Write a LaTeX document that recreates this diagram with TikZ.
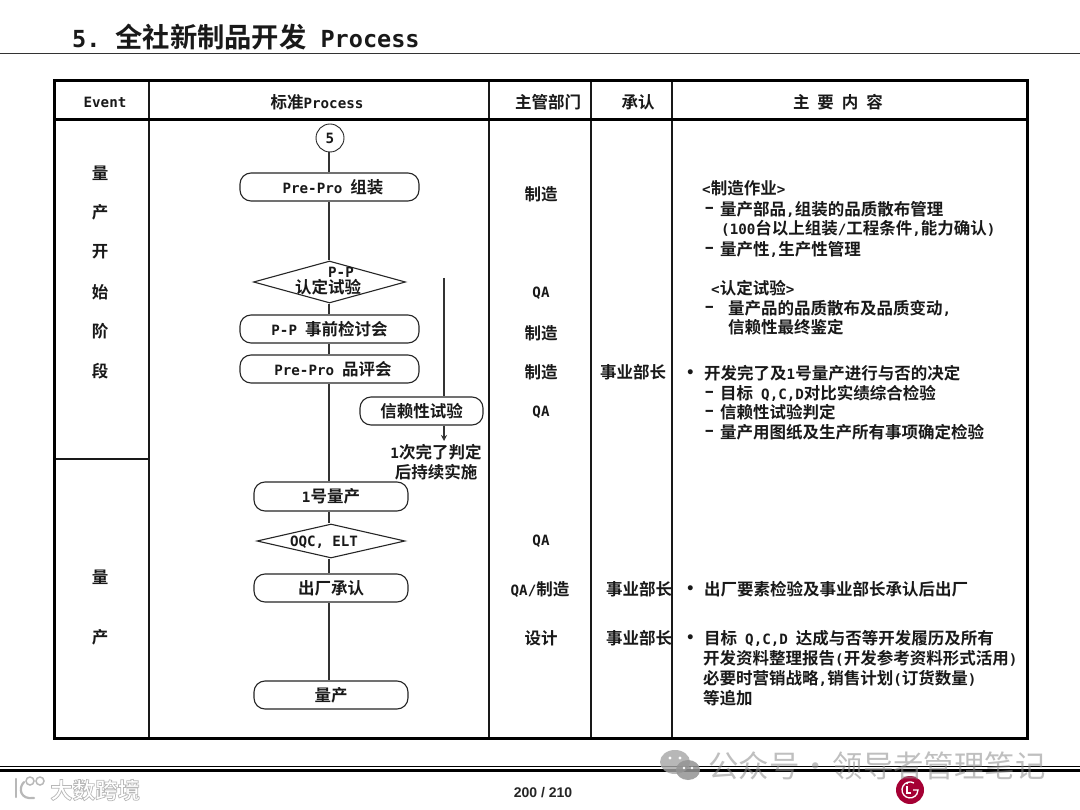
\documentclass[tikz,border=0pt]{standalone}
\usepackage{fontspec}
\usetikzlibrary{shapes.geometric,arrows.meta}
\setmainfont[BoldFont=* Bold]{Noto Sans CJK SC}
\newfontfamily\latf[BoldFont=* Bold]{DejaVu Sans Mono}
\newfontfamily\arialf[BoldFont=* Bold]{Liberation Sans}
\newcommand{\ltn}[1]{{\latf\fontsize{14.2}{16}\selectfont #1}}
\newcommand{\ltt}[1]{{\latf\fontsize{23.5}{26}\selectfont #1}}
\newcommand{\fs}[1]{\fontsize{#1}{#1}\selectfont}
\newcommand{\dsh}{\ltn{\scalebox{1.7}[1]{-}}}
\newcommand{\bul}{\ltn{•}}
\newcommand{\bx}[1]{\raisebox{-1.5pt}{#1}}
\newcommand{\widesp}{\spaceskip=8pt\relax}
\newcommand{\narrowsp}{\spaceskip=1.5pt\relax}
\definecolor{lgred}{HTML}{A50034}
\tikzset{
  x=1pt,y=-1pt,
  frame/.style={draw=black,line width=3pt},
  grid/.style={draw=black!90,line width=1.1pt},
  txtbase/.style={font=\fs{16.5}\bfseries\widesp,inner sep=0pt,text=black!90},
  txt/.style={txtbase,yshift=-1pt},
  ltxt/.style={txt,anchor=west},
  flow/.style={draw=black!80,line width=1.1pt},
  procbox/.style={draw=black!85,line width=1.1pt,rounded corners=11pt,fill=white,txtbase},
  decis/.style={draw=black!85,line width=1.1pt,diamond,fill=white,inner sep=0pt,aspect=3.6},
  wm/.style={font=\fs{30.4}\narrowsp,inner sep=0pt,text=black!45,opacity=.55},
}
\begin{document}
\begin{tikzpicture}
\useasboundingbox[fill=white] (0,0) rectangle (1080,810);
% title
\node[inner sep=0pt,text=black!90,anchor=west,font=\fs{27.3}\bfseries] (title) at (72,37) {\ltt{5.}\hspace{15pt}全社新制品开发\hspace{14pt}\ltt{Process}};
\coordinate (rl) at (0,54); \coordinate (rr) at (1080,54);
\draw[black!80,line width=1pt] (rl) -- (rr);
% table frame
\coordinate (tl) at (54,81); \coordinate (br) at (1027,738);
\coordinate (c1t) at (149,81); \coordinate (c1b) at (149,738);
\coordinate (c2t) at (489,81); \coordinate (c2b) at (489,738);
\coordinate (c3t) at (591,81); \coordinate (c3b) at (591,738);
\coordinate (c4t) at (672,81); \coordinate (c4b) at (672,738);
\coordinate (hl) at (56,120); \coordinate (hr) at (1027,120);
\coordinate (ml) at (54,459); \coordinate (mr) at (149,459);
\draw[grid] (c1t) -- (c1b); \draw[grid] (c2t) -- (c2b); \draw[grid] (c3t) -- (c3b); \draw[grid] (c4t) -- (c4b);
\draw[grid] (ml) -- (mr);
\draw[frame] (hl) -- (hr);
\draw[frame] (tl) rectangle (br);
% header
\node[txt] (h1) at (105,101) {\ltn{Event}};
\node[txt] (h2) at (317,101) {标准\ltn{Process}};
\node[txt] (h3) at (548,101) {主管部门};
\node[txt] (h4) at (638,101) {承认};
\node[txt] (h5) at (838,101) {主 要 内 容};
% event column
\node[txt] (e1) at (100,172) {量};
\node[txt] (e2) at (100,211) {产};
\node[txt] (e3) at (100,251) {开};
\node[txt] (e4) at (100,291) {始};
\node[txt] (e5) at (100,330) {阶};
\node[txt] (e6) at (100,370) {段};
\node[txt] (e7) at (100,576) {量};
\node[txt] (e8) at (100,636) {产};
% flow
\coordinate (spine) at (329,0);
\node[draw=black!85,line width=.9pt,circle,minimum size=28pt,inner sep=0pt,txtbase] (five) at (330,138) {\ltn{5}};
\node[procbox,minimum width=179pt,minimum height=28pt,inner sep=0pt] (p1) at (329.5,187) {\hspace{7pt}\bx{\ltn{Pre-Pro} 组装}};
\node[decis,minimum width=152pt,minimum height=42pt] (d1) at (329.5,282) {};
\node[procbox,minimum width=179pt,minimum height=28pt,inner sep=0pt] (p2) at (329.5,329) {\bx{\ltn{P-P} 事前检讨会}};
\node[procbox,minimum width=179pt,minimum height=28pt,inner sep=0pt] (p3) at (329.5,369) {\hspace{7pt}\bx{\ltn{Pre-Pro} 品评会}};
\node[procbox,minimum width=154pt,minimum height=29pt,inner sep=0pt] (p4) at (331,496.5) {\bx{\ltn{1}号量产}\hspace{3pt}};
\node[decis,minimum width=148pt,minimum height=34pt] (d2) at (331,541) {};
\node[procbox,minimum width=154pt,minimum height=28pt,inner sep=0pt] (p5) at (331,588) {\bx{出厂承认}\hspace{3pt}};
\node[procbox,minimum width=154pt,minimum height=28pt,inner sep=0pt] (p6) at (331,695) {\bx{量产}};
\node[procbox,minimum width=123pt,minimum height=28pt,inner sep=0pt] (rel) at (421.5,411) {\bx{信赖性试验}\hspace{3pt}};
\node[txt] (d1a) at (341,271) {\ltn{P-P}};
\node[txt] (d1b) at (328,286) {认定试验};
\node[txt] (d2t) at (324,541) {\ltn{OQC, ELT}};
\draw[flow] (five.south -| spine) -- (p1.north -| spine);
\draw[flow] (p1.south -| spine) -- (d1.north -| spine);
\draw[flow] (d1.south -| spine) -- (p2.north -| spine);
\draw[flow] (p2.south -| spine) -- (p3.north -| spine);
\draw[flow] (p3.south -| spine) -- (p4.north -| spine);
\draw[flow] (p4.south -| spine) -- (d2.north -| spine);
\draw[flow] (d2.south -| spine) -- (p5.north -| spine);
\draw[flow] (p5.south -| spine) -- (p6.north -| spine);
\coordinate (reltop) at (444,278);
\coordinate (relstub) at (444,441);
\draw[flow] (reltop) -- (rel.north -| reltop);
\draw[flow,-{Stealth[length=6pt,width=6pt]}] (rel.south -| reltop) -- (relstub);
\node[txt] (n1) at (436,451) {\ltn{1}次完了判定};
\node[txt] (n2) at (436,471) {后持续实施};
% dept column
\node[txt] (a1) at (541,193) {制造};
\node[txt] (a2) at (541,292) {\ltn{QA}};
\node[txt] (a3) at (541,332) {制造};
\node[txt] (a4) at (541,371) {制造};
\node[txt] (a5) at (541,411) {\ltn{QA}};
\node[txt] (a6) at (541,540) {\ltn{QA}};
\node[txt] (a7) at (540,588) {\ltn{QA/}制造};
\node[txt] (a8) at (541,637) {设计};
% approval column
\node[txt] (b1) at (633,371) {事业部长};
\node[txt] (b2) at (639,588) {事业部长};
\node[txt] (b3) at (639,637) {事业部长};
% content column
\node[ltxt] (t1) at (702,187) {\ltn{<}制造作业\ltn{>}};
\node[ltxt] (t2a) at (702,209) {\dsh};
\node[ltxt] (t2) at (720,208) {量产部品\ltn{,}组装的品质散布管理};
\node[ltxt] (t3) at (721,227) {\ltn{(100}台以上组装\ltn{/}工程条件\ltn{,}能力确认\ltn{)}};
\node[ltxt] (t4a) at (702,249) {\dsh};
\node[ltxt] (t4) at (720,248) {量产性\ltn{,}生产性管理};
\node[ltxt] (t5) at (711,287) {\ltn{<}认定试验\ltn{>}};
\node[ltxt] (t6a) at (702,308) {\dsh};
\node[ltxt] (t6) at (728,307) {量产品的品质散布及品质变动\ltn{,}};
\node[ltxt] (t7) at (728,326) {信赖性最终鉴定};
\node[ltxt] (t8a) at (686,373) {\bul};
\node[ltxt] (t8) at (704,372) {开发完了及\ltn{1}号量产进行与否的决定};
\node[ltxt] (t9a) at (702,393) {\dsh};
\node[ltxt] (t9) at (720,392) {目标 \ltn{Q,C,D}对比实绩综合检验};
\node[ltxt] (t10a) at (702,412) {\dsh};
\node[ltxt] (t10) at (720,411) {信赖性试验判定};
\node[ltxt] (t11a) at (702,432) {\dsh};
\node[ltxt] (t11) at (720,431) {量产用图纸及生产所有事项确定检验};
\node[ltxt] (t12a) at (686,589) {\bul};
\node[ltxt] (t12) at (704,588) {出厂要素检验及事业部长承认后出厂};
\node[ltxt] (t13a) at (686,638) {\bul};
\node[ltxt] (t13) at (704,637) {目标 \ltn{Q,C,D} 达成与否等开发履历及所有};
\node[ltxt] (t14) at (703,657) {开发资料整理报告\ltn{(}开发参考资料形式活用\ltn{)}};
\node[ltxt] (t15) at (703,677) {必要时营销战略\ltn{,}销售计划\ltn{(}订货数量\ltn{)}};
\node[ltxt] (t16) at (703,697) {等追加};
% footer
\coordinate (fl) at (0,766); \coordinate (fr) at (1080,766);
\coordinate (gl) at (0,770.5); \coordinate (gr) at (1080,770.5);
\draw[black,line width=1pt] (fl) -- (fr);
\draw[black,line width=3.5pt] (gl) -- (gr);
\node[font=\arialf\fs{14}\bfseries,inner sep=0pt,text=black!85] (page) at (543,793) {200 / 210};
% LG logo
\node[circle,fill=lgred,minimum size=28pt,inner sep=0pt] (lg) at (910,790) {};
\draw[white,line width=1.3pt] ([shift={(4,-7)}]lg.center) arc[start angle=-60,end angle=-360,radius=8] -- ++(-5,0);
\draw[white,line width=1.3pt] ([shift={(-3,-4)}]lg.center) -- ++(0,7) -- ++(4,0);
\fill[white] ([shift={(-3,-6.5)}]lg.center) circle (1);
% watermarks
\fill[black!35,opacity=.8] (675,762) ellipse (15 and 12);
\fill[black!42,opacity=.85] (688,770) ellipse (12 and 10);
\fill[white] (670,758) circle (1.7); \fill[white] (680,758) circle (1.7);
\fill[white] (684,768) circle (1.4); \fill[white] (692,768) circle (1.4);
\node[wm,anchor=west] (wm1) at (708,766) {公众号 · 领导者管理笔记};
\node[font=\fs{22.5}\bfseries,inner sep=0pt,anchor=west] (wm2) at (50,790) {\special{pdf:code q 1 Tr 0.7 w 0.72 G}大数跨境\special{pdf:code Q}};
\draw[black!28,line width=2.2pt,line cap=round] (16,779) -- (16,797);
\draw[black!28,line width=2.2pt,line cap=round] (24,782) .. controls (18,788) and (20,800) .. (34,798);
\draw[black!28,line width=1.5pt] (30,781) circle (4);
\draw[black!28,line width=1.5pt] (40,781) circle (4);
\end{tikzpicture}
\end{document}
